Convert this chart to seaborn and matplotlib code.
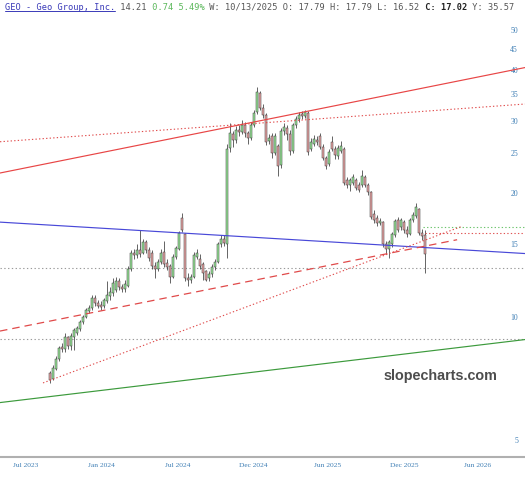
import matplotlib
matplotlib.use("Agg")
import matplotlib.pyplot as plt
from matplotlib.lines import Line2D
import seaborn as sns
import pandas as pd
import numpy as np

# ---------------- data (weekly candles, GEO) ----------------
opens = [7.3, 7.05, 7.45, 7.9, 8.45, 8.35, 8.9, 8.5, 8.9, 9.1,
         9.35, 9.7, 10.0, 10.3, 10.5, 11.1, 10.8, 10.7, 10.6, 10.9,
         11.2, 11.4, 11.6, 12.2, 11.8, 11.7, 11.9, 13.1, 14.3, 14.1,
         14.5, 14.3, 15.2, 14.5, 14.3, 13.3, 13.1, 13.6, 14.4, 13.5,
         13.3, 12.5, 14.0, 14.6, 17.4, 15.9, 12.4, 12.3, 12.5, 14.0,
         13.8, 13.4, 12.9, 12.4, 12.7, 13.2, 13.6, 15.0, 15.5, 15.0,
         25.8, 27.9, 27.0, 28.6, 28.2, 29.4, 28.0, 27.3, 29.3, 31.6,
         35.2, 32.3, 31.0, 26.8, 27.6, 25.0, 26.0, 23.4, 28.4, 28.9,
         27.9, 25.4, 29.3, 30.3, 31.2, 30.9, 31.3, 25.6, 26.4, 27.0,
         27.6, 25.9, 24.4, 23.6, 26.7, 25.6, 24.6, 25.4, 25.6, 21.5,
         20.9, 21.2, 21.5, 20.9, 20.9, 21.9, 20.9, 20.1, 17.8, 17.4,
         16.9, 17.0, 15.0, 14.6, 15.0, 15.8, 17.2, 16.5, 17.0, 16.3,
         15.9, 17.2, 17.6, 18.3, 16.0, 15.8]
highs = [7.35, 7.6, 8.0, 8.5, 8.6, 9.1, 8.95, 9.1, 9.4, 9.5,
         9.8, 10.1, 10.5, 10.7, 11.3, 11.3, 11.0, 10.9, 11.1, 12.2,
         11.8, 12.4, 12.5, 12.4, 12.0, 12.3, 13.3, 14.5, 14.6, 15.0,
         16.3, 15.5, 15.4, 14.8, 14.5, 13.6, 13.8, 14.6, 15.3, 13.8,
         13.4, 14.2, 14.9, 16.2, 17.9, 16.0, 12.8, 12.7, 14.4, 14.6,
         14.2, 13.6, 13.0, 12.9, 13.4, 13.8, 15.2, 15.8, 15.8, 26.3,
         29.6, 28.3, 29.2, 29.3, 30.1, 29.8, 28.4, 29.8, 31.9, 36.3,
         35.6, 33.0, 31.3, 27.9, 28.0, 28.0, 26.4, 28.9, 29.6, 29.4,
         28.5, 29.7, 30.8, 31.5, 31.8, 32.0, 31.7, 27.2, 27.8, 27.5,
         28.0, 26.3, 24.7, 25.6, 27.6, 26.0, 26.2, 26.8, 25.9, 21.9,
         21.8, 22.3, 21.8, 21.3, 22.8, 22.2, 21.2, 20.3, 18.2, 17.7,
         17.4, 17.1, 15.3, 15.4, 16.1, 17.3, 17.5, 17.4, 17.2, 16.6,
         17.4, 18.0, 18.9, 18.4, 16.4, 16.3]
lows = [6.9, 7.0, 7.4, 7.8, 8.2, 8.2, 8.35, 8.3, 8.3, 9.0,
        9.2, 9.6, 9.9, 10.2, 10.4, 10.6, 10.5, 10.4, 10.5, 10.8,
        11.0, 11.2, 11.5, 11.6, 11.5, 11.5, 11.8, 12.9, 13.8, 13.9,
        14.0, 14.2, 14.3, 13.7, 13.1, 12.4, 12.9, 13.4, 13.2, 13.0,
        12.1, 12.4, 13.8, 14.5, 16.1, 12.2, 11.9, 12.1, 12.4, 13.8,
        13.1, 12.3, 12.2, 12.2, 12.5, 13.0, 13.5, 14.8, 14.9, 13.9,
        25.2, 25.9, 26.5, 27.6, 27.9, 27.4, 26.3, 27.0, 29.0, 31.2,
        32.0, 30.5, 26.2, 26.4, 24.4, 24.8, 22.0, 23.1, 27.8, 27.0,
        24.8, 25.0, 28.8, 29.8, 30.3, 30.5, 24.8, 25.3, 26.0, 26.2,
        25.6, 24.1, 22.9, 23.3, 25.3, 24.2, 24.3, 25.1, 20.9, 20.6,
        20.3, 21.0, 20.4, 20.1, 20.7, 20.7, 19.8, 17.3, 16.9, 16.6,
        16.7, 14.8, 14.2, 13.9, 14.8, 15.6, 16.1, 16.3, 16.0, 15.6,
        15.8, 17.0, 17.4, 15.8, 15.4, 12.8]
closes = [7.0, 7.5, 7.9, 8.4, 8.35, 8.9, 8.5, 8.95, 9.25, 9.4,
          9.7, 10.0, 10.4, 10.5, 11.1, 10.8, 10.6, 10.55, 10.95, 11.3,
          11.5, 12.1, 12.2, 11.8, 11.65, 12.0, 13.1, 14.3, 14.1, 14.5,
          14.2, 15.2, 14.5, 13.9, 13.3, 13.1, 13.6, 14.3, 13.4, 13.2,
          12.5, 14.0, 14.7, 16.0, 16.3, 12.4, 12.3, 12.5, 14.1, 14.3,
          13.3, 12.8, 12.3, 12.7, 13.2, 13.6, 15.0, 15.5, 15.1, 25.6,
          28.0, 27.0, 28.6, 28.2, 29.4, 28.0, 27.2, 29.3, 31.4, 35.4,
          32.3, 31.0, 26.6, 27.3, 25.0, 27.5, 23.3, 28.4, 29.0, 27.9,
          25.4, 29.3, 30.3, 31.1, 30.9, 31.5, 25.2, 26.6, 27.1, 26.6,
          25.9, 24.4, 23.3, 25.2, 25.6, 24.8, 25.8, 26.1, 21.2, 21.0,
          21.5, 21.9, 20.6, 20.4, 22.0, 20.9, 20.1, 17.5, 17.2, 16.9,
          17.1, 15.0, 14.6, 15.2, 15.9, 17.1, 16.3, 17.2, 16.3, 15.9,
          17.2, 17.7, 18.5, 16.0, 15.7, 14.2]
weeks = list(range(len(closes)))

# trend lines: (week index, price) end points
trend_lines = {
    "red_solid":   ([-16.67, 158.33], [22.4, 40.5]),
    "red_dot_top": ([-16.67, 158.33], [26.7, 33.0]),
    "blue":        ([-16.67, 158.33], [17.0, 14.25]),
    "red_dashed":  ([-16.67, 135.7], [9.22, 15.4]),
    "red_dot_up":  ([-2.33, 137.3], [6.89, 16.6]),
    "green":       ([-16.67, 158.33], [6.17, 8.79]),
}
gray_levels = [13.16, 8.8]
green_level = (124.3, 16.57)
red_level = (125.0, 15.96)

x_tick_pos = [-8, 17, 42.67, 67.67, 92.67, 118, 142.67]
x_tick_labels = ["Jul 2023", "Jan 2024", "Jul 2024", "Dec 2024",
                 "Jun 2025", "Dec 2025", "Jun 2026"]
y_ticks = [5, 10, 15, 20, 25, 30, 35, 40, 45, 50]

title_parts = [("GEO - Geo Group, Inc.", "#3a3ab8", "normal"),
               (" 14.21", "#555555", "normal"),
               (" 0.74 5.49%", "#5cb85c", "normal"),
               (" W: 10/13/2025 O: 17.79 H: 17.79 L: 16.52", "#555555", "normal"),
               (" C: 17.02", "#222222", "bold"),
               (" Y: 35.57", "#555555", "normal")]

# ---------------- drawing ----------------
sns.set_theme(style="white")
plt.rcParams["font.family"] = ["DejaVu Sans"]

fig = plt.figure(figsize=(5.25, 4.8), dpi=100)
ax = fig.add_axes([0, 23 / 480, 1, (457 - 18) / 480])
ax.set_yscale("log")

XMIN, XMAX = -16.67, 158.33
ax.set_xlim(XMIN, XMAX)
ax.set_ylim(4.545, 53.5)

df = pd.DataFrame({"week": weeks, "open": opens, "high": highs,
                   "low": lows, "close": closes})
up = df["close"] >= df["open"]

# wicks
ax.vlines(df["week"], df["low"], df["high"], color="#3a3a3a", lw=0.55, zorder=2)
# bodies
body_lo = np.minimum(df["open"], df["close"])
body_h = np.maximum(np.abs(df["close"] - df["open"]), 0.04)
ax.bar(df["week"][up], body_h[up], bottom=body_lo[up], width=0.92,
       color="#9be89b", edgecolor="#333333", linewidth=0.35, zorder=3)
ax.bar(df["week"][~up], body_h[~up], bottom=body_lo[~up], width=0.92,
       color="#eaa7a7", edgecolor="#333333", linewidth=0.35, zorder=3)

# horizontal levels
for lv in gray_levels:
    sns.lineplot(x=[XMIN, XMAX], y=[lv, lv], ax=ax, color="#9a9a9a", lw=0.8,
                 linestyle=(0, (1.2, 2.2)), zorder=1)
sns.lineplot(x=[green_level[0], XMAX], y=[green_level[1]] * 2, ax=ax,
             color="#6cc46c", lw=0.8, linestyle=(0, (1.2, 2.0)), zorder=4)
sns.lineplot(x=[red_level[0], XMAX], y=[red_level[1]] * 2, ax=ax,
             color="#e05555", lw=0.8, linestyle=(0, (1.2, 2.0)), zorder=4)

styles = {
    "red_solid": dict(color="#e84545", lw=0.85, linestyle="-"),
    "red_dot_top": dict(color="#e04a4a", lw=0.8, linestyle=(0, (1.2, 2.0))),
    "blue": dict(color="#4848d8", lw=0.85, linestyle="-"),
    "red_dashed": dict(color="#e04a4a", lw=0.9, linestyle=(0, (6, 4))),
    "red_dot_up": dict(color="#e04a4a", lw=0.8, linestyle=(0, (1.2, 2.0))),
    "green": dict(color="#3c9a3c", lw=0.85, linestyle="-"),
}
for name, (xs, ys) in trend_lines.items():
    sns.lineplot(x=xs, y=ys, ax=ax, zorder=4, **styles[name])

# axes styling
for s in ["top", "left", "right"]:
    ax.spines[s].set_visible(False)
ax.spines["bottom"].set_color("#b0b0b0")
ax.spines["bottom"].set_linewidth(1.5)
ax.set_xlabel("")
ax.set_ylabel("")

ax.set_xticks(x_tick_pos)
ax.set_xticklabels(x_tick_labels, family="Liberation Serif", fontsize=5.4,
                   color="#3f7fb5")
ax.yaxis.tick_right()
ax.minorticks_off()
ax.set_yticks(y_ticks)
ax.set_yticklabels([str(v) for v in y_ticks], family="Liberation Serif",
                   fontsize=5.6, color="#3f7fb5")
ax.tick_params(axis="x", length=0, pad=4.3)
ax.tick_params(axis="y", length=0, pad=-5.0, which="both")
for lab in ax.get_yticklabels():
    lab.set_horizontalalignment("right")

# watermark
ax.text(497 / 525, 1 - (376 - 18) / (457 - 18), "slopecharts.com",
        transform=ax.transAxes, ha="right", va="center", fontsize=10.4,
        fontweight="bold", family="Liberation Sans", color="#4d4d4d", zorder=5)

# title (monospace pieces)
fig.canvas.draw()
r = fig.canvas.get_renderer()
probe = fig.text(0, 0, "M" * 50, family="DejaVu Sans Mono", fontsize=6.2)
adv = probe.get_window_extent(renderer=r).width / 50.0
probe.remove()
x0 = 5.0
n = 0
ty = 480 - 7.0
for txt, col, w in title_parts:
    fig.text((x0 + n * adv) / 525, ty / 480, txt, color=col, fontweight=w,
             family="DejaVu Sans Mono", fontsize=6.2, ha="left", va="center")
    n += len(txt)
ul_len = len(title_parts[0][0]) * adv
fig.add_artist(Line2D([x0 / 525, (x0 + ul_len) / 525],
                      [(480 - 10.5) / 480] * 2, color="#3a3ab8", lw=0.7,
                      transform=fig.transFigure))

fig.savefig("out.png", dpi=100)
